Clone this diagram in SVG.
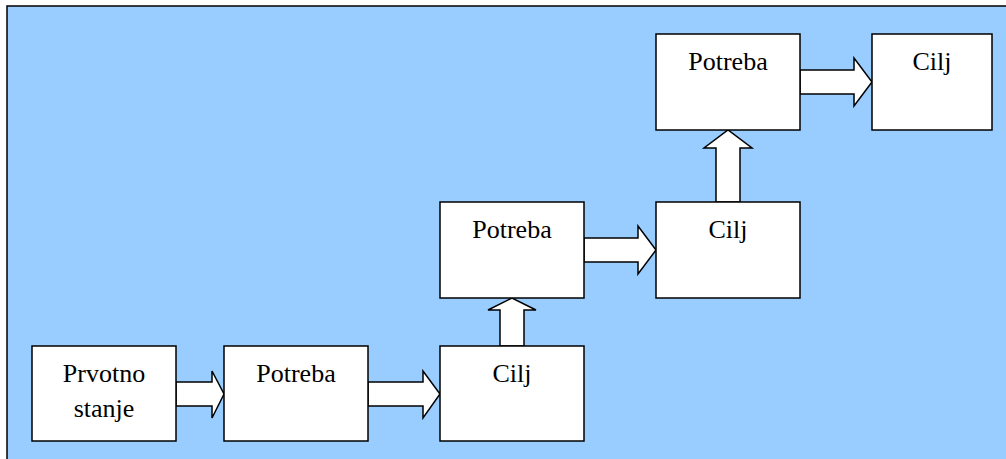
<svg xmlns="http://www.w3.org/2000/svg" width="1006" height="459" viewBox="0 0 1006 459">
<style>
.box{fill:#fff;stroke:#000;stroke-width:1.5}
.arr{fill:#fff;stroke:#000;stroke-width:1.5;stroke-linejoin:miter}
.t{font-family:'Liberation Serif','DejaVu Serif',serif;font-size:26px;fill:#000;text-anchor:middle}
</style>
<rect x="7" y="6" width="1010" height="470" fill="#99CCFF" stroke="#000" stroke-width="1.5"/>
<g id="connectors">
<polygon class="arr" points="176,382 212,382 212,371 224,394 212,418 212,406 176,406"/>
<polygon class="arr" points="368,382 423,382 423,371 440,394 423,418 423,406 368,406"/>
<polygon class="arr" points="500,346 500,310 488,310 512,298 536,310 524,310 524,346"/>
<polygon class="arr" points="584,238 638,238 638,226 656,250 638,274 638,262 584,262"/>
<polygon class="arr" points="716,202 716,148 704,148 728,130 752,148 740,148 740,202"/>
<polygon class="arr" points="800,70 854,70 854,58 872,82 854,106 854,94 800,94"/>
</g>
<g id="n1"><rect class="box" x="32" y="346" width="144" height="95"/><text class="t" x="104" y="382">Prvotno</text><text class="t" x="104" y="417">stanje</text></g>
<g id="n2"><rect class="box" x="224" y="346" width="144" height="95"/><text class="t" x="296" y="382">Potreba</text></g>
<g id="n3"><rect class="box" x="440" y="346" width="144" height="95"/><text class="t" x="512" y="382">Cilj</text></g>
<g id="n4"><rect class="box" x="440" y="202" width="144" height="96"/><text class="t" x="512" y="238">Potreba</text></g>
<g id="n5"><rect class="box" x="656" y="202" width="144" height="96"/><text class="t" x="728" y="238">Cilj</text></g>
<g id="n6"><rect class="box" x="656" y="34" width="144" height="96"/><text class="t" x="728" y="70">Potreba</text></g>
<g id="n7"><rect class="box" x="872" y="34" width="120" height="96"/><text class="t" x="932" y="70">Cilj</text></g>
</svg>
